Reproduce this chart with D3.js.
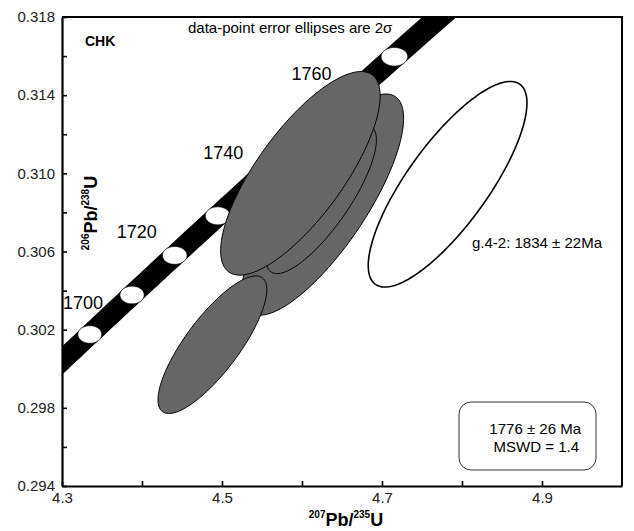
<!DOCTYPE html>
<html>
<head>
<meta charset="utf-8">
<script src="https://cdn.jsdelivr.net/npm/d3@7"></script>
<style>
  body { margin: 0; background: #fff; }
  text { font-family: "Liberation Sans", Arial, sans-serif; }
</style>
</head>
<body>
<div id="chart"></div>
<script>
// axis ticks
const xMajor = [4.3, 4.5, 4.7, 4.9];
const xMinor = [4.4, 4.6, 4.8];
const yMajor = [0.294, 0.298, 0.302, 0.306, 0.310, 0.314, 0.318];
const yMinor = [0.296, 0.300, 0.304, 0.308, 0.312, 0.316];

// concordia age markers (Ma)
const markerAges = [1700, 1710, 1720, 1730, 1740, 1750, 1760, 1770];
const labelAges = [1700, 1720, 1740, 1760];

// data-point ellipses: 207/235, 206/238, 2s half-extents, rho
const spotName = ["c", "b", "a", "d", "g.4-2"];
const spotX = [4.626, 4.624, 4.598, 4.488, 4.782];
const spotSx = [0.101, 0.069, 0.0997, 0.068, 0.0992];
const spotY = [0.3084, 0.30867, 0.31000, 0.30123, 0.30944];
const spotSy = [0.00566, 0.0038, 0.00521, 0.00352, 0.00526];
const spotRho = [0.78, 0.80, 0.76, 0.80, 0.79];
const spotFill = ["#666666", "#666666", "#666666", "#666666", "none"];

// decay constants (1/yr) and 1-sigma relative errors
const lam235 = 9.8485e-10, lam238 = 1.55125e-10;
const err235 = 0.00068, err238 = 0.000535;
const conf = 2.45;

const width = 634, height = 531;
const x0 = 62, x1 = 622, y0 = 17, y1 = 486;

const x = d3.scaleLinear().domain([4.3, 5.0]).range([x0, x1]);
const y = d3.scaleLinear().domain([0.294, 0.318]).range([y1, y0]);

const svg = d3.select("#chart").append("svg")
    .attr("width", width).attr("height", height)
    .style("display", "block");

svg.append("defs").append("clipPath").attr("id", "plot")
  .append("rect").attr("x", x0).attr("y", y0).attr("width", x1 - x0).attr("height", y1 - y0);

// concordia point + decay constant error half-widths for age t (Ma)
function conc(t) {
  const T = t * 1e6;
  const e5 = Math.exp(lam235 * T), e8 = Math.exp(lam238 * T);
  return {
    x: e5 - 1, y: e8 - 1,
    sx: conf * err235 * lam235 * T * e5,
    sy: conf * err238 * lam238 * T * e8
  };
}

const plot = svg.append("g").attr("clip-path", "url(#plot)");

// age labels (drawn under the band)
const labels = plot.append("g");
labelAges.forEach(t => {
  const c = conc(t);
  const cx = x(c.x), cy = y(c.y);
  const tx = labels.append("text")
      .attr("x", cx - 18).attr("y", cy - 17)
      .attr("text-anchor", "end")
      .style("font-size", "18px")
      .text(t);
  const w = tx.node().getComputedTextLength();
  if (cx - 18 - w < x0 + 1) {
    tx.attr("text-anchor", "start").attr("x", x0 + 1).attr("y", cy - 25);
  }
});

// concordia band
const ages = d3.range(1690, 1800, 0.5);
const left = [], right = [];
ages.forEach(t => {
  const c = conc(t), cn = conc(t + 0.01);
  const px = x(c.x), py = y(c.y);
  const dx = x(cn.x) - px, dy = y(cn.y) - py;
  const len = Math.hypot(dx, dy);
  const nx = -dy / len, ny = dx / len;
  const a = x(c.x + c.sx) - px, b = py - y(c.y + c.sy);
  const h = Math.sqrt(a * a * nx * nx + b * b * ny * ny);
  const ox = a * a * nx / h, oy = b * b * ny / h;
  left.push([px + ox, py + oy]);
  right.push([px - ox, py - oy]);
});
plot.append("path")
    .attr("d", d3.line().curve(d3.curveLinearClosed)(left.concat(right.reverse())))
    .attr("fill", "#000");

// ellipse outline in pixels
const theta = d3.range(0, 2 * Math.PI, Math.PI / 90);
function ellipse(cx, sx, cy, sy, rho) {
  const q = Math.sqrt(1 - rho * rho);
  return d3.line().curve(d3.curveLinearClosed)(theta.map(a => [
    x(cx + sx * Math.cos(a)),
    y(cy + sy * (rho * Math.cos(a) + q * Math.sin(a)))
  ]));
}

// age marker ellipses
plot.append("g").selectAll("path")
  .data(markerAges)
  .join("path")
    .attr("d", t => { const c = conc(t); return ellipse(c.x, c.sx, c.y, c.sy, 0); })
    .attr("fill", "#fff")
    .attr("stroke", "#000")
    .attr("stroke-width", 0.7);

// data-point ellipses
plot.append("g").selectAll("path")
  .data(spotName.map((n, i) => i))
  .join("path")
    .attr("d", i => ellipse(spotX[i], spotSx[i], spotY[i], spotSy[i], spotRho[i]))
    .attr("fill", i => spotFill[i])
    .attr("stroke", "#000")
    .attr("stroke-width", i => spotFill[i] === "none" ? 1.6 : 1);

// axes
const xAxis = svg.append("g")
    .attr("transform", `translate(0,${y1})`)
    .call(d3.axisBottom(x)
      .tickValues(xMajor.concat(xMinor))
      .tickSizeInner(-5).tickSizeOuter(0).tickPadding(6)
      .tickFormat(d => xMajor.includes(d) ? d3.format(".1f")(d) : ""));
const yAxis = svg.append("g")
    .attr("transform", `translate(${x0},0)`)
    .call(d3.axisLeft(y)
      .tickValues(yMajor.concat(yMinor))
      .tickSizeInner(-5).tickSizeOuter(0).tickPadding(7)
      .tickFormat(d => yMajor.includes(d) ? d3.format(".3f")(d) : ""));

[xAxis, yAxis].forEach(g => {
  g.select(".domain").attr("stroke-width", 2.2);
  g.selectAll(".tick line").attr("stroke-width", 1.6);
  g.selectAll(".tick text").style("font-size", "15px").style("font-family", "'Liberation Sans', Arial, sans-serif").attr("fill", "#222");
});

svg.append("path")
    .attr("d", `M${x0},${y0}H${x1}V${y1}`)
    .attr("fill", "none").attr("stroke", "#000").attr("stroke-width", 2);

// axis titles
const xt = svg.append("text")
    .attr("x", 346).attr("y", 526)
    .attr("text-anchor", "middle")
    .style("font-size", "18px").style("font-weight", "bold");
xt.append("tspan").attr("font-size", "10px").attr("dy", -8).text("207");
xt.append("tspan").attr("dy", 8).text("Pb/");
xt.append("tspan").attr("font-size", "10px").attr("dy", -8).text("235");
xt.append("tspan").attr("dy", 8).text("U");

const yt = svg.append("text")
    .attr("transform", "translate(97,213) rotate(-90)")
    .attr("text-anchor", "middle")
    .style("font-size", "18px").style("font-weight", "bold");
yt.append("tspan").attr("font-size", "10px").attr("dy", -8).text("206");
yt.append("tspan").attr("dy", 8).text("Pb/");
yt.append("tspan").attr("font-size", "10px").attr("dy", -8).text("238");
yt.append("tspan").attr("dy", 8).text("U");

// annotations
svg.append("text").attr("x", 85).attr("y", 46)
    .style("font-size", "14px").style("font-weight", "bold").text("CHK");
svg.append("text").attr("x", 188).attr("y", 33)
    .style("font-size", "15px").text("data-point error ellipses are 2\u03c3");
svg.append("text").attr("x", 472).attr("y", 248)
    .style("font-size", "15px").text("g.4-2: 1834 \u00b1 22Ma");

svg.append("rect")
    .attr("x", 459).attr("y", 402).attr("width", 137).attr("height", 68)
    .attr("rx", 12)
    .attr("fill", "#fff").attr("stroke", "#333").attr("stroke-width", 1);
svg.append("text").attr("x", 581).attr("y", 434).attr("text-anchor", "end")
    .style("font-size", "15px").text("1776 \u00b1 26 Ma");
svg.append("text").attr("x", 579).attr("y", 452).attr("text-anchor", "end")
    .style("font-size", "15px").text("MSWD = 1.4");
</script>
</body>
</html>
